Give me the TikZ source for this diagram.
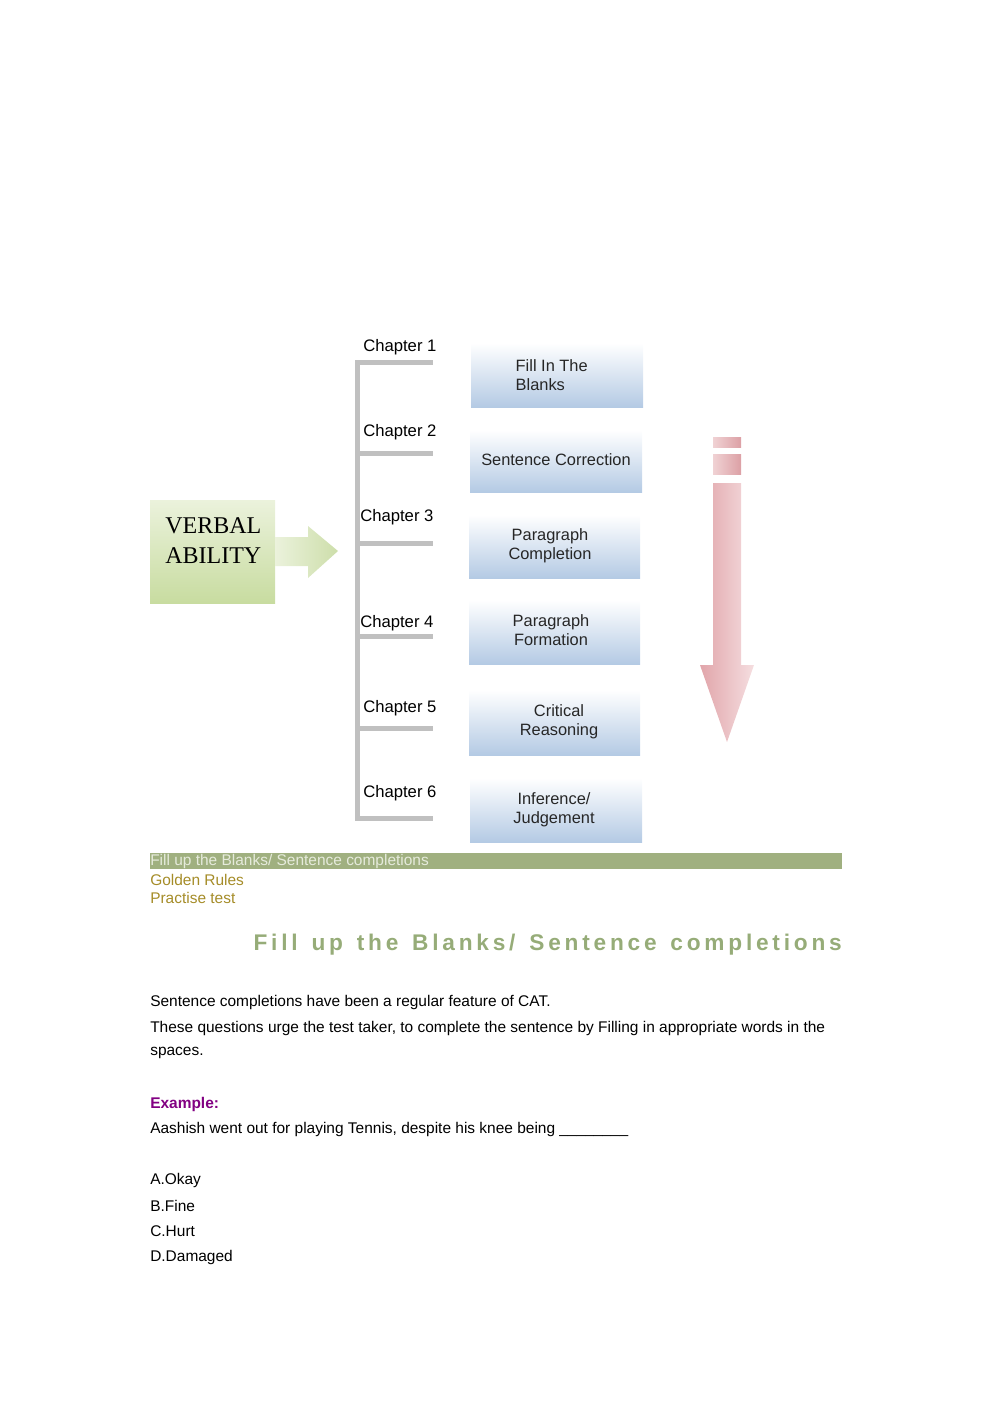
\documentclass[tikz,border=0pt]{standalone}
\usepackage{fontspec}
\setmainfont{Liberation Sans}
\newfontfamily\serifv{Liberation Serif}
\definecolor{boxblue}{RGB}{180,202,228}
\definecolor{bargray}{RGB}{192,192,192}
\definecolor{glight}{RGB}{235,242,220}
\definecolor{gdark}{RGB}{200,220,160}
\definecolor{gmid}{RGB}{205,222,170}
\definecolor{plight}{RGB}{240,210,212}
\definecolor{pdark}{RGB}{220,160,165}
\definecolor{pdark2}{RGB}{225,165,170}
\definecolor{plight2}{RGB}{245,222,224}
\definecolor{barg}{RGB}{160,176,128}
\definecolor{bartxt}{RGB}{230,235,220}
\definecolor{olive}{RGB}{165,140,40}
\definecolor{headg}{RGB}{150,172,120}
\definecolor{purp}{RGB}{130,0,130}
\begin{document}
\begin{tikzpicture}[x=0.75pt,y=-0.75pt,
  box/.style={top color=white,bottom color=boxblue,draw=none},
  chap/.style={anchor=west,font=\fontsize{12.5}{14}\selectfont,inner sep=0},
  btxt/.style={align=center,font=\fontsize{12.3}{14.5}\selectfont,text=black!85},
  gbar/.style={line width=3.75pt,draw=bargray},
  body/.style={anchor=west,inner sep=0,font=\fontsize{11.6}{13}\selectfont}]
\useasboundingbox (0,0) rectangle (992,1403);
% bracket
\draw[gbar] (357,360) -- (357,820);
\foreach \y in {362,453,543,636,728,818}{\draw[gbar] (355,\y) -- (433,\y);}
\node[chap] (c1) at (363,347) {Chapter 1};
\node[chap] (c2) at (363,432) {Chapter 2};
\node[chap] (c3) at (360,517) {Chapter 3};
\node[chap] (c4) at (360,623) {Chapter 4};
\node[chap] (c5) at (363,708) {Chapter 5};
\node[chap] (c6) at (363,793) {Chapter 6};
% boxes
\shade[box] (471,343) rectangle (643,407);
\shade[box] (470,430) rectangle (642,492);
\shade[box] (469,515) rectangle (640,578);
\shade[box] (469,600) rectangle (640,664);
\shade[box] (469,690) rectangle (640,755);
\shade[box] (470,778) rectangle (642,842);
\node[btxt,align=left,anchor=west] (b1) at (511,375) {Fill In The\\Blanks};
\node[btxt] (b2) at (556,460) {Sentence Correction};
\node[btxt] (b3) at (550,546) {Paragraph\\Completion};
\node[btxt] (b4) at (551,630) {Paragraph\\Formation};
\node[btxt] (b5) at (559,722) {Critical\\Reasoning};
\node[btxt] (b6) at (554,810) {Inference/\\Judgement};
% green box + arrow
\shade[draw=none,top color=glight,bottom color=gdark] (150,500) rectangle (275,603);
\shade[left color=glight,right color=gmid] (275,537) -- (308,537) -- (308,526) -- (338,551) -- (308,578) -- (308,566) -- (275,566) -- cycle;
\node[anchor=west,align=left,inner sep=0,font=\serifv\fontsize{18}{22.5}\selectfont] (va) at (165,541) {VERBAL\\ABILITY};
% pink arrow
\shade[left color=plight,right color=pdark] (713,437) rectangle (741,447);
\shade[left color=plight,right color=pdark] (713,454) rectangle (741,474);
\shade[left color=pdark2,right color=plight2] (713,483) -- (741,483) -- (741,665) -- (754,665) -- (727,742) -- (700,665) -- (713,665) -- cycle;
% text
\fill[barg] (150,853) rectangle (842,869);
\node[body,text=bartxt] (t0) at (150,861) {Fill up the Blanks/ Sentence completions};
\node[body,text=olive] (t1) at (150,880) {Golden Rules};
\node[body,text=olive] (t2) at (150,898) {Practise test};
\node[anchor=east,inner sep=0,font=\bfseries\fontsize{17}{20}\selectfont,text=headg] (h) at (842,945) {F\,i\,l\,l\, \,u\,p\, \,t\,h\,e\, \,B\,l\,a\,n\,k\,s\,/\, \,S\,e\,n\,t\,e\,n\,c\,e\, \,c\,o\,m\,p\,l\,e\,t\,i\,o\,n\,s};
\node[body] (p1) at (150,1002) {Sentence completions have been a regular feature of CAT.};
\node[body] (p2) at (150,1028) {These questions urge the test taker, to complete the sentence by Filling in appropriate words in the};
\node[body] (p3) at (150,1053) {spaces.};
\node[body,font=\bfseries\fontsize{11.6}{13}\selectfont,text=purp] (ex) at (150,1104) {Example:};
\node[body] (p4) at (150,1129) {Aashish went out for playing Tennis, despite his knee being \_\_\_\_\_\_\_\_};
\node[body] (a) at (150,1180) {A.Okay};
\node[body] (b) at (150,1206) {B.Fine};
\node[body] (c) at (150,1231) {C.Hurt};
\node[body] (d) at (150,1257) {D.Damaged};
\end{tikzpicture}
\end{document}
